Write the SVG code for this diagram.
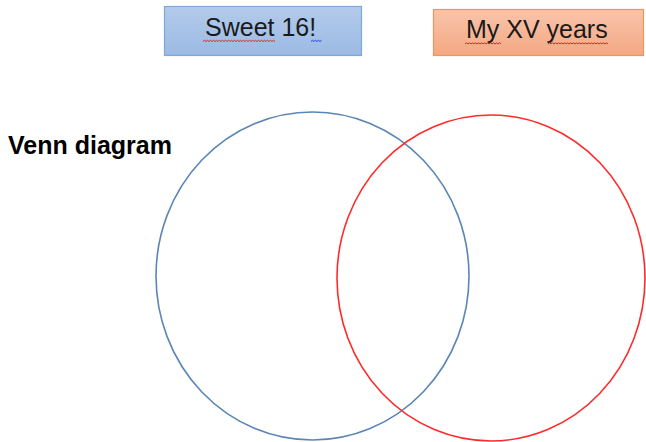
<svg xmlns="http://www.w3.org/2000/svg" width="646" height="442" viewBox="0 0 646 442">
  <defs>
    <linearGradient id="gBlue" x1="0" y1="0" x2="0" y2="1">
      <stop offset="0" stop-color="#b3cbeb"/>
      <stop offset="1" stop-color="#9bbae3"/>
    </linearGradient>
    <linearGradient id="gOrange" x1="0" y1="0" x2="0" y2="1">
      <stop offset="0" stop-color="#f9c4ab"/>
      <stop offset="1" stop-color="#f4a882"/>
    </linearGradient>
    <style>
      .lbl { font-family: "Liberation Sans", Arial, sans-serif; font-size: 25px; fill: #1a1a1a; }
      .title { font-family: "Liberation Sans", Arial, sans-serif; font-size: 25px; font-weight: bold; fill: #000; }
      .sq { fill: none; stroke-width: 1; }
    </style>
  </defs>
  <rect width="646" height="442" fill="#ffffff"/>

  <g id="title">
    <text class="title" x="8" y="154">Venn diagram</text>
  </g>

  <g id="sweet16">
    <rect x="164.5" y="6.5" width="197" height="49" fill="url(#gBlue)" stroke="#7ea8db" stroke-width="1.2"/>
    <text class="lbl" x="205" y="36">Sweet 16!</text>
    <path class="sq" stroke="#e02020" d="M203 41.5 l1.5 -1.2 l1.5 1.2 l1.5 -1.2 l1.5 1.2 l1.5 -1.2 l1.5 1.2 l1.5 -1.2 l1.5 1.2 l1.5 -1.2 l1.5 1.2 l1.5 -1.2 l1.5 1.2 l1.5 -1.2 l1.5 1.2 l1.5 -1.2 l1.5 1.2 l1.5 -1.2 l1.5 1.2 l1.5 -1.2 l1.5 1.2 l1.5 -1.2 l1.5 1.2 l1.5 -1.2 l1.5 1.2 l1.5 -1.2 l1.5 1.2 l1.5 -1.2 l1.5 1.2 l1.5 -1.2 l1.5 1.2 l1.5 -1.2 l1.5 1.2 l1.5 -1.2 l1.5 1.2 l1.5 -1.2 l1.5 1.2 l1.5 -1.2 l1.5 1.2 l1.5 -1.2 l1.5 1.2 l1.5 -1.2 l1.5 1.2 l1.5 -1.2 l1.5 1.2 l1.5 -1.2 l1.5 1.2 l1.5 -1.2 l1.5 1.2"/>
    <path class="sq" stroke="#2040e0" d="M311 41.5 l1.5 -1.2 l1.5 1.2 l1.5 -1.2 l1.5 1.2 l1.5 -1.2 l1.5 1.2 l1.5 -1.2"/>
  </g>

  <g id="myxv">
    <rect x="433.5" y="9.5" width="210" height="46" fill="url(#gOrange)" stroke="#ee9460" stroke-width="1.2"/>
    <text class="lbl" x="466" y="38">My XV years</text>
    <path class="sq" stroke="#e02020" d="M465 44 l1.5 -1.2 l1.5 1.2 l1.5 -1.2 l1.5 1.2 l1.5 -1.2 l1.5 1.2 l1.5 -1.2 l1.5 1.2 l1.5 -1.2 l1.5 1.2 l1.5 -1.2 l1.5 1.2 l1.5 -1.2 l1.5 1.2 l1.5 -1.2 l1.5 1.2 l1.5 -1.2 l1.5 1.2 l1.5 -1.2 l1.5 1.2 l1.5 -1.2 l1.5 1.2 l1.5 -1.2 l1.5 1.2"/>
    <path class="sq" stroke="#e02020" d="M548 44 l1.5 -1.2 l1.5 1.2 l1.5 -1.2 l1.5 1.2 l1.5 -1.2 l1.5 1.2 l1.5 -1.2 l1.5 1.2 l1.5 -1.2 l1.5 1.2 l1.5 -1.2 l1.5 1.2 l1.5 -1.2 l1.5 1.2 l1.5 -1.2 l1.5 1.2 l1.5 -1.2 l1.5 1.2 l1.5 -1.2 l1.5 1.2 l1.5 -1.2 l1.5 1.2 l1.5 -1.2 l1.5 1.2 l1.5 -1.2 l1.5 1.2 l1.5 -1.2 l1.5 1.2 l1.5 -1.2 l1.5 1.2 l1.5 -1.2 l1.5 1.2 l1.5 -1.2 l1.5 1.2 l1.5 -1.2 l1.5 1.2 l1.5 -1.2 l1.5 1.2 l1.5 -1.2 l1.5 1.2"/>
  </g>

  <g id="circleBlue">
    <ellipse cx="312.5" cy="276" rx="156.5" ry="164" fill="none" stroke="#5a86b6" stroke-width="1.6"/>
  </g>
  <g id="circleRed">
    <ellipse cx="491" cy="278" rx="154" ry="163" fill="none" stroke="#ff2a2a" stroke-width="1.6"/>
  </g>
</svg>
